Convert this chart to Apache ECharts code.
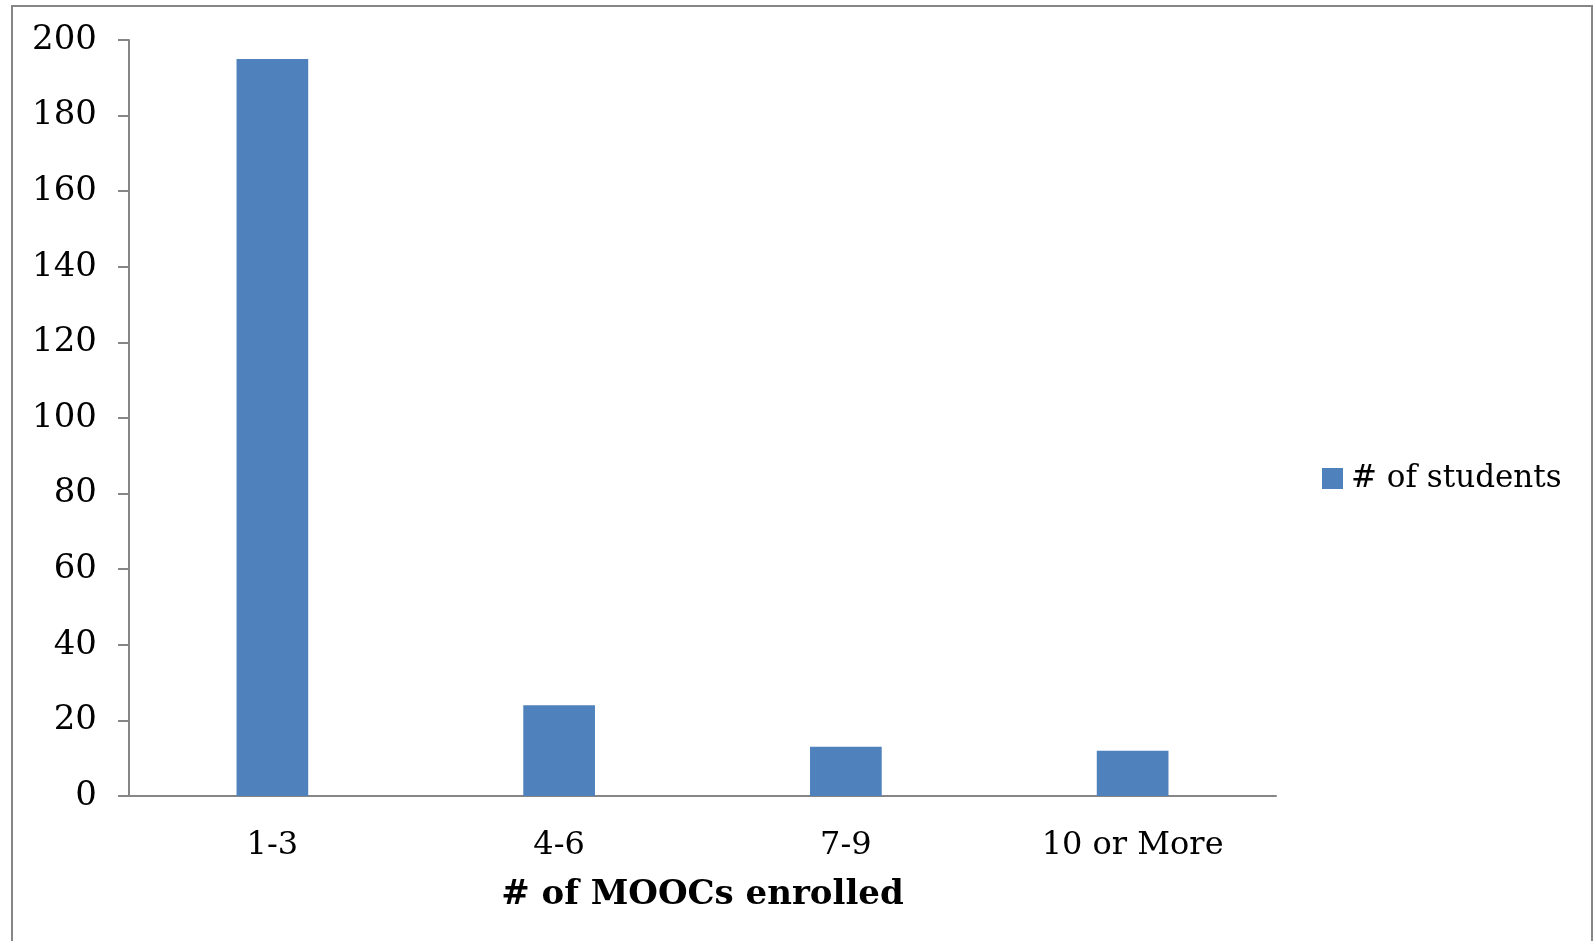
<!DOCTYPE html>
<html>
<head>
<meta charset="utf-8">
<script src="https://cdn.jsdelivr.net/npm/echarts@6/dist/echarts.min.js"></script>
<style>
  html, body { margin: 0; padding: 0; background: #ffffff; }
  #chart { width: 1593px; height: 941px; }
</style>
</head>
<body>
<div id="chart"></div>
<script>
// Number of MOOCs each student enrolled in
const categories = ['1-3', '4-6', '7-9', '10 or More'];
const students = [195, 24, 13, 12];
const seriesName = '# of students';
const xAxisTitle = '# of MOOCs enrolled';
const yMin = 0;
const yMax = 200;
const yStep = 20;

const FONT = '"DejaVu Serif", "Liberation Serif", serif';
const AXIS_GRAY = '#868686';
const BAR_BLUE = '#4F81BD';

const chart = echarts.init(document.getElementById('chart'));
chart.setOption({
  backgroundColor: '#ffffff',
  animation: false,
  textStyle: { fontFamily: FONT, color: '#000' },
  graphic: [{
    type: 'rect',
    shape: { x: 12, y: 6, width: 1580, height: 960 },
    style: { fill: 'none', stroke: AXIS_GRAY, lineWidth: 2 },
    silent: true
  }],
  grid: { left: 129, right: 317, top: 40, bottom: 145 },
  legend: {
    orient: 'vertical',
    left: 1317,
    top: 458,
    itemWidth: 21,
    itemHeight: 21,
    itemGap: 10,
    icon: 'rect',
    textStyle: { fontFamily: FONT, fontSize: 31, color: '#000', padding: [0, 0, 0, 3] },
    data: [seriesName]
  },
  xAxis: {
    type: 'category',
    data: categories,
    name: xAxisTitle,
    nameLocation: 'middle',
    nameGap: 82,
    nameTextStyle: { fontFamily: FONT, fontSize: 34, fontWeight: 'bold', color: '#000' },
    axisLine: { lineStyle: { color: AXIS_GRAY, width: 2 } },
    axisTick: { show: false },
    axisLabel: { fontFamily: FONT, fontSize: 32, color: '#000', margin: 34 }
  },
  yAxis: {
    type: 'value',
    min: yMin,
    max: yMax,
    interval: yStep,
    axisLine: { show: true, lineStyle: { color: AXIS_GRAY, width: 2 } },
    axisTick: { show: true, length: 11, lineStyle: { color: AXIS_GRAY, width: 2 } },
    splitLine: { show: false },
    axisLabel: { fontFamily: FONT, fontSize: 34, color: '#000', margin: 32 }
  },
  series: [{
    name: seriesName,
    type: 'bar',
    data: students,
    barWidth: '25%',
    itemStyle: { color: BAR_BLUE }
  }]
});
</script>
</body>
</html>
